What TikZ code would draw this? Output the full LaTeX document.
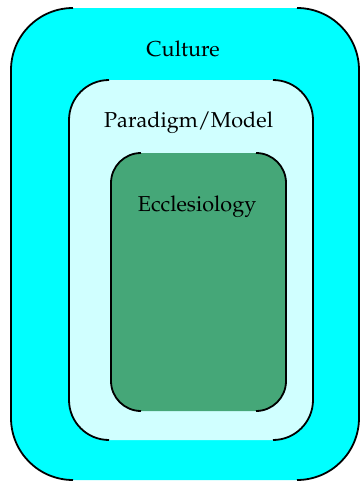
\documentclass[tikz,border=0pt]{standalone}
\usepackage[T1]{fontenc}
\usepackage{mathpazo}
\usepackage{tikz}
\usetikzlibrary{positioning, calc}
\definecolor{colorCultura}{HTML}{00FFFF}
\definecolor{colorParadigma}{HTML}{D0FFFF}
\definecolor{colorEclesio}{HTML}{45A778}

\begin{document}
\begin{tikzpicture}[x=0.5pt, y=-0.5pt, font=\fontsize{10.8}{13}\selectfont,
        caja/.style={rounded corners=#1, inner sep=0pt, outer sep=0pt},
        borde/.style={line width=0.9pt, rounded corners=#1},
        etiqueta/.style={inner sep=0pt}]
    \useasboundingbox (0,0) rectangle (361,482);
    \node[caja=31pt, fill=colorCultura, minimum width=174pt, minimum height=236pt] (cultura) at (185,244) {};
    \node[caja=20pt, fill=colorParadigma, minimum width=122pt, minimum height=180pt] (paradigma) at (191,260) {};
    \node[caja=15pt, fill=colorEclesio, minimum width=87.5pt, minimum height=129pt] (eclesio) at (198.5,282) {};
    % only the sides and corners get a line
    \foreach \b/\r in {cultura/31pt, paradigma/20pt, eclesio/15pt} {
        \draw[borde=\r] ($(\b.north west)+(\r,0)$) -- (\b.north west) -- (\b.south west) -- ($(\b.south west)+(\r,0)$);
        \draw[borde=\r] ($(\b.north east)-(\r,0)$) -- (\b.north east) -- (\b.south east) -- ($(\b.south east)-(\r,0)$);
    }
    \node[etiqueta, below=16pt of cultura.north, xshift=-1pt] (tCultura) {Culture};
    \node[etiqueta, below=15.5pt of paradigma.north, xshift=-1.2pt] (tParadigma) {Paradigm/Model};
    \node[etiqueta, below=21pt of eclesio.north, xshift=-0.7pt] (tEclesio) {Ecclesiology};
\end{tikzpicture}
\end{document}
